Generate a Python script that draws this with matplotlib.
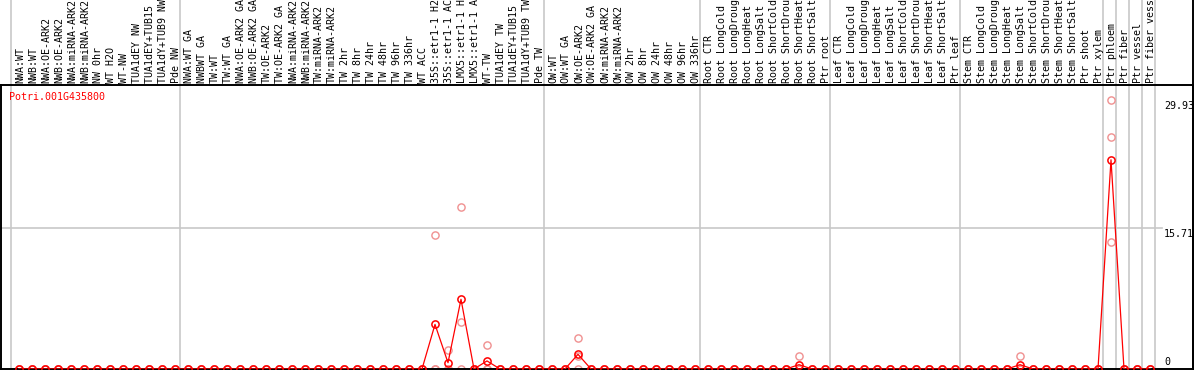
import numpy as np
import matplotlib
matplotlib.use("Agg")
import matplotlib.pyplot as plt

plt.rcParams['font.family'] = ['DejaVu Sans Mono']

gene = "Potri.001G435800"

samples = [
    "NWA:WT", "NWB:WT", "NWA:OE-ARK2", "NWB:OE-ARK2", "NWA:miRNA-ARK2",
    "NWB:miRNA-ARK2", "NW 0hr", "WT H2O", "WT-NW", "TUA1dEY NW",
    "TUA1dEY+TUB15 NW", "TUA1dY+TUB9 NW", "Pde NW",
    "NWA:WT GA", "NWBWT GA", "TW:WT", "TW:WT GA", "NWA:OE-ARK2 GA",
    "NWB:OE-ARK2 GA", "TW:OE-ARK2", "TW:OE-ARK2 GA", "NWA:miRNA-ARK2",
    "NWB:miRNA-ARK2", "TW:miRNA-ARK2", "TW:miRNA-ARK2", "TW 2hr", "TW 8hr",
    "TW 24hr", "TW 48hr", "TW 96hr", "TW 336hr", "WT ACC",
    "35S::etr1-1 H2O", "35S::etr1-1 ACC", "LMX5::etr1-1 H2O",
    "LMX5::etr1-1 ACC", "WT-TW", "TUA1dEY TW", "TUA1dEY+TUB15 TW",
    "TUA1dY+TUB9 TW", "Pde TW",
    "OW:WT", "OW:WT GA", "OW:OE-ARK2", "OW:OE-ARK2 GA", "OW:miRNA-ARK2",
    "OW:miRNA-ARK2", "OW 2hr", "OW 8hr", "OW 24hr", "OW 48hr", "OW 96hr",
    "OW 336hr",
    "Root CTR", "Root LongCold", "Root LongDrought", "Root LongHeat",
    "Root LongSalt", "Root ShortCold", "Root ShortDrought", "Root ShortHeat",
    "Root ShortSalt", "Ptr root",
    "Leaf CTR", "Leaf LongCold", "Leaf LongDrought", "Leaf LongHeat",
    "Leaf LongSalt", "Leaf ShortCold", "Leaf ShortDrought", "Leaf ShortHeat",
    "Leaf ShortSalt", "Ptr leaf",
    "Stem CTR", "Stem LongCold", "Stem LongDrought", "Stem LongHeat",
    "Stem LongSalt", "Stem ShortCold", "Stem ShortDrought", "Stem ShortHeat",
    "Stem ShortSalt", "Ptr shoot", "Ptr xylem", "Ptr phloem", "Ptr fiber",
    "Ptr vessel", "Ptr fiber vessel",
]

# replicate expression values, one line per sample group
rep_a = [
    0, 0, 0, 0, 0,  0, 0, 0, 0, 0,  0, 0, 0,
    0, 0, 0, 0, 0,  0, 0, 0, 0, 0,  0, 0, 0, 0, 0,  0, 0, 0, 0,
    14.9, 2.1, 18.1, 0, 2.7,  0, 0, 0, 0,
    0, 0, 3.4, 0, 0,  0, 0, 0, 0, 0,  0, 0,
    0, 0, 0, 0, 0,  0, 0, 1.45, 0, 0,
    0, 0, 0, 0, 0,  0, 0, 0, 0, 0,
    0, 0, 0, 0, 1.45,  0, 0, 0, 0, 0,  0, 29.93, 0, 0, 0,
]
rep_b = [
    0, 0, 0, 0, 0,  0, 0, 0, 0, 0,  0, 0, 0,
    0, 0, 0, 0, 0,  0, 0, 0, 0, 0,  0, 0, 0, 0, 0,  0, 0, 0, 0,
    0, 0, 5.2, 0, 0,  0, 0, 0, 0,
    0, 0, 1.5, 0, 0,  0, 0, 0, 0, 0,  0, 0,
    0, 0, 0, 0, 0,  0, 0, 0, 0, 0,
    0, 0, 0, 0, 0,  0, 0, 0, 0, 0,
    0, 0, 0, 0, 0,  0, 0, 0, 0, 0,  0, 25.8, 0, 0, 0,
]
rep_c = [
    0, 0, 0, 0, 0,  0, 0, 0, 0, 0,  0, 0, 0,
    0, 0, 0, 0, 0,  0, 0, 0, 0, 0,  0, 0, 0, 0, 0,  0, 0, 0, 0,
    0, 0, 0, 0, 0,  0, 0, 0, 0,
    0, 0, 0, 0, 0,  0, 0, 0, 0, 0,  0, 0,
    0, 0, 0, 0, 0,  0, 0, 0, 0, 0,
    0, 0, 0, 0, 0,  0, 0, 0, 0, 0,
    0, 0, 0, 0, 0,  0, 0, 0, 0, 0,  0, 14.2, 0, 0, 0,
]

# sample index after which a separator is drawn (-1 = before first)
separators = [-1, 12, 40, 52, 62, 72, 83, 84, 85, 86, 87]
y_ticks = [0, 15.71, 29.93]

reps = np.array([rep_a, rep_b, rep_c])
means = reps.mean(axis=0)
x = np.arange(len(samples))

W, H = 1194, 370
fig = plt.figure(figsize=(W / 100, H / 100), dpi=100)
ax_top, ax_bot = 85, 369
ax = fig.add_axes([1 / W, (H - ax_bot) / H, 1192 / W, (ax_bot - ax_top) / H])
ax.set_xlim((1 - 19) / 13, (1193 - 19) / 13)
ax.set_ylim(0, (ax_bot - ax_top) / 8.975)
ax.set_xticks([])
ax.set_yticks([])
for s in ax.spines.values():
    s.set_linewidth(1.4)
    s.set_color('black')

sep_color = '#c8c8c8'
over = ax_bot / (ax_bot - ax_top)
for k in separators:
    ax.axvline(k + 0.38, ymin=0, ymax=over, color=sep_color, lw=1.2,
               clip_on=False, zorder=1)
ax.axhline(y_ticks[1], xmin=0, xmax=(1162 - 1) / 1192, color=sep_color,
           lw=1.2, zorder=1)

# replicates
for r in reps:
    ax.plot(x, r, 'o', ms=5.2, mfc='none', mec='#f09090', mew=1.0, zorder=2)
# means
ax.plot(x, means, '-', color='red', lw=0.9, zorder=3)
ax.plot(x, means, 'o', ms=5.2, mfc='none', mec='red', mew=1.1, zorder=4)

# sample labels above plot
for i, lab in enumerate(samples):
    ax.annotate(lab, xy=(i, 1), xycoords=('data', 'axes fraction'),
                xytext=(1, 2), textcoords='offset pixels', rotation=90,
                ha='center', va='bottom', fontsize=7.2, annotation_clip=False)

ax.annotate(gene, xy=(0, 1), xycoords='axes fraction', xytext=(8, -12),
            textcoords='offset pixels', ha='left', va='center',
            color='red', fontsize=7.2)

for v in y_ticks:
    off = 7 if v == 0 else -6
    ax.annotate(f"{v:g}", xy=(1, v), xycoords=('axes fraction', 'data'),
                xytext=(-29, off), textcoords='offset pixels', ha='left',
                va='center', fontsize=7.2, annotation_clip=False)

# right border from top of figure
ax.axvline((1193 - 19) / 13, ymin=0, ymax=over + 0.01, color='black',
           lw=1.4, clip_on=False)

fig.savefig("out.png", dpi=100)
